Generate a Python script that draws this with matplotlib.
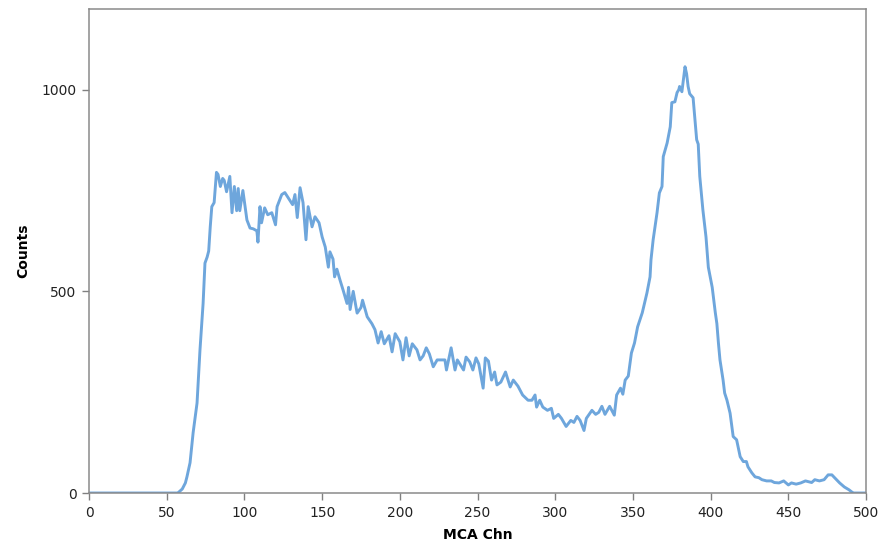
import matplotlib.pyplot as plt

# values
channels = [0, 57, 58, 60, 62, 63, 65, 67, 69.5, 71.4, 73.4, 74.6, 76, 77, 78, 79, 80.5, 82, 83,
            84.5, 86, 87, 88.5, 90.6, 92, 93.5, 95, 96, 97, 99, 101.6, 103.6, 105.7, 108, 108.7,
            110, 111, 113, 115, 117.6, 120, 121, 124, 126, 128.5, 131, 132.5, 134, 135.8, 137.7,
            139.6, 141, 143.5, 145.4, 148, 150, 152, 154, 155, 157, 158, 159.5, 161.5, 163.5,
            166, 167, 168, 170, 172.5, 175, 176, 179, 182, 184, 186, 188, 190, 193, 195, 197,
            200, 202, 204, 206, 208, 211, 213, 215, 217, 219, 221.5, 224, 226, 229, 230, 233,
            235.5, 237, 241, 242.6, 245, 247, 249, 250.8, 253.6, 255, 257, 259, 261, 262.5, 265,
            268, 271, 273, 276, 279, 282.5, 285, 287, 288, 290, 292, 295, 297.5, 299, 302, 304,
            307, 310, 312, 314, 316, 318.5, 320, 323.6, 326, 328, 330, 332, 335, 338, 339.5, 342,
            343.5, 345, 347, 349, 351, 353, 356, 359, 361, 361.6, 363, 365.5, 367, 368.7, 369.5,
            372, 374, 375, 377, 378.4, 379.5, 380, 381.5, 383.5, 384.5, 385.5, 386.5, 388.7, 391,
            392, 393, 395, 397, 398.5, 401, 403, 404, 405, 406, 408, 409, 410.5, 412.5, 414.5,
            416.7, 419, 421, 423, 424, 426.5, 428.6, 431, 433, 436, 439, 441, 444, 447, 450, 452,
            455, 458, 461, 465, 467, 470, 473, 475.6, 478, 481, 483, 486, 489, 491, 492, 500]
counts = [0, 0, 3, 10, 25, 40, 75, 150, 223, 355, 470, 570, 585, 600, 660, 710, 720, 795, 790,
          760, 780, 775, 747, 785, 695, 760, 700, 755, 700, 750, 677, 657, 655, 650, 622,
          710, 670, 707, 690, 695, 665, 710, 740, 745, 730, 715, 740, 683, 757, 720,
          628, 710, 660, 685, 670, 635, 610, 560, 598, 580, 536, 555, 528, 503,
          470, 510, 455, 500, 446, 460, 478, 437, 420, 405, 372, 400, 370, 390, 350, 395,
          375, 330, 385, 340, 370, 355, 330, 340, 360, 345, 313, 330, 330, 330, 305, 360,
          305, 330, 305, 337, 325, 305, 335, 320, 260, 335, 327, 280, 300, 268, 275,
          300, 263, 280, 265, 243, 230, 230, 243, 213, 230, 213, 205, 210, 185, 195, 185,
          165, 180, 175, 190, 180, 155, 185, 205, 195, 200, 215, 195, 215, 193, 243, 260,
          245, 280, 290, 347, 372, 412, 447, 496, 536, 578, 628, 695, 744, 760, 834,
          868, 908, 968, 970, 993, 1000, 1008, 995, 1057, 1040, 1008, 990, 980, 876,
          865, 785, 702, 635, 560, 510, 447, 420, 372, 330, 280, 248, 230, 198, 140,
          132, 90, 78, 78, 65, 50, 40, 38, 33, 30, 30, 26, 25, 30, 20, 25,
          22, 25, 30, 26, 33, 30, 33, 45, 45, 33, 25, 15, 8, 2, 0, 0]

fig = plt.figure(figsize=(8.85, 5.55), dpi=100)
ax = fig.add_axes([0.1006, 0.1117, 0.878, 0.872])

ax.plot(channels, counts, color='#6ea6dc', lw=2.1)

ax.set_xlim(0, 500)
ax.set_ylim(0, 1200)
ax.set_xticks(range(0, 501, 50))
ax.set_yticks([0, 500, 1000])
ax.tick_params(direction='out', length=5, width=1, color='#808080',
               labelsize=10, labelcolor='#222222', pad=4)
for s in ax.spines.values():
    s.set_color('#8a8a8a')
    s.set_linewidth(1.1)

ax.set_xlabel('MCA Chn', fontsize=10, fontweight='bold', labelpad=6)
ax.set_ylabel('Counts', fontsize=10, fontweight='bold', labelpad=8)

fig.savefig('out.png', dpi=100)
